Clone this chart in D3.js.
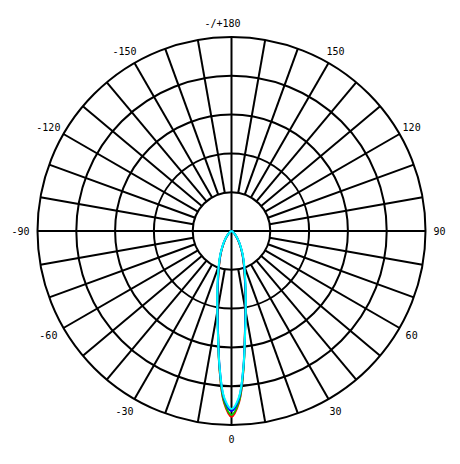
<!DOCTYPE html>
<html>
<head>
<meta charset="utf-8">
<script src="https://cdn.jsdelivr.net/npm/d3@7"></script>
<style>
  body { margin: 0; background: #fff; }
  text { font-family: "DejaVu Sans Mono", monospace; font-size: 10px; fill: #000; }
</style>
</head>
<body>
<script>
const width  = 460;
const height = 464;
const cx = 231.5, cy = 231;
const R  = 194;

// gamma angles (deg) of the measured points, C-planes mirrored to negative side
const gammas = [0, 2.5, 5, 7.5, 10, 12.5, 15, 20, 25, 30, 35, 40, 45, 50, 60, 70, 80, 90];

// luminous intensity (cd) per C-plane
const seriesRed   = [479, 443, 356, 265, 206, 165, 134, 93, 67, 46, 31, 21, 13, 8, 4, 1, 0, 0];
const seriesGreen = [474, 440, 355, 266, 207, 166, 135, 94, 67, 46, 31, 21, 13, 8, 4, 1, 0, 0];
const seriesBlue  = [464, 433, 352, 266, 208, 167, 136, 95, 68, 47, 32, 21, 13, 8, 4, 1, 0, 0];
const seriesCyan  = [459, 430, 352, 268, 211, 170, 139, 97, 70, 48, 33, 22, 14, 8, 4, 1, 0, 0];

const ringValues  = [100, 200, 300, 400, 500];
const labelAngles = [0, 30, 60, 90, 120, 150, 180, -150, -120, -90, -60, -30];

const svg = d3.select("body").append("svg")
  .attr("width", width)
  .attr("height", height);

const g = svg.append("g").attr("transform", `translate(${cx},${cy})`);

const rScale = d3.scaleLinear().domain([0, 500]).range([0, R]);
// gamma 0 at bottom, +90 right, 180 top
const toRad = (deg) => Math.PI - deg * Math.PI / 180;
const px = (deg, r) => r * Math.sin(toRad(deg));
const py = (deg, r) => -r * Math.cos(toRad(deg));

// rings
g.selectAll("circle.ring")
  .data(ringValues)
  .join("circle")
  .attr("class", "ring")
  .attr("r", d => rScale(d))
  .attr("fill", "none")
  .attr("stroke", "#000")
  .attr("stroke-width", 2);

// spokes every 10 deg
const spokes = d3.range(-170, 190, 10);
g.selectAll("line.spoke")
  .data(spokes)
  .join("line")
  .attr("class", "spoke")
  .attr("x1", d => px(d, d % 90 === 0 ? 0 : rScale(100)))
  .attr("y1", d => py(d, d % 90 === 0 ? 0 : rScale(100)))
  .attr("x2", d => px(d, R))
  .attr("y2", d => py(d, R))
  .attr("stroke", "#000")
  .attr("stroke-width", 2);

// angle labels: digits centred on the angle, any prefix ("-", "-/+") hangs left
const labelText = d => d === 180 ? "-/+180" : String(d);
const prefixLen = d => labelText(d).length - String(Math.abs(d)).length;

g.selectAll("text.lab")
  .data(labelAngles)
  .join("text")
  .attr("class", "lab")
  .attr("x", d => px(d, R + 14) - prefixLen(d) * 3)
  .attr("y", d => py(d, R + 14))
  .attr("dy", "0.38em")
  .attr("text-anchor", "middle")
  .text(labelText);

// curves
const lineGen = d3.lineRadial()
  .angle(d => toRad(d.g))
  .radius(d => rScale(d.v))
  .curve(d3.curveCatmullRom);

function planePoints(values) {
  const right = gammas.map((gm, i) => ({g: gm, v: values[i]}));
  const left  = gammas.map((gm, i) => ({g: -gm, v: values[i]})).slice(1).reverse();
  return left.concat(right);
}

const curves = [
  {color: "#ff0000", values: seriesRed},
  {color: "#00cc00", values: seriesGreen},
  {color: "#0000ff", values: seriesBlue},
  {color: "#00ffff", values: seriesCyan}
];

g.selectAll("path.curve")
  .data(curves)
  .join("path")
  .attr("class", "curve")
  .attr("d", d => lineGen(planePoints(d.values)))
  .attr("fill", "none")
  .attr("stroke", d => d.color)
  .attr("stroke-width", 2);
</script>
</body>
</html>
